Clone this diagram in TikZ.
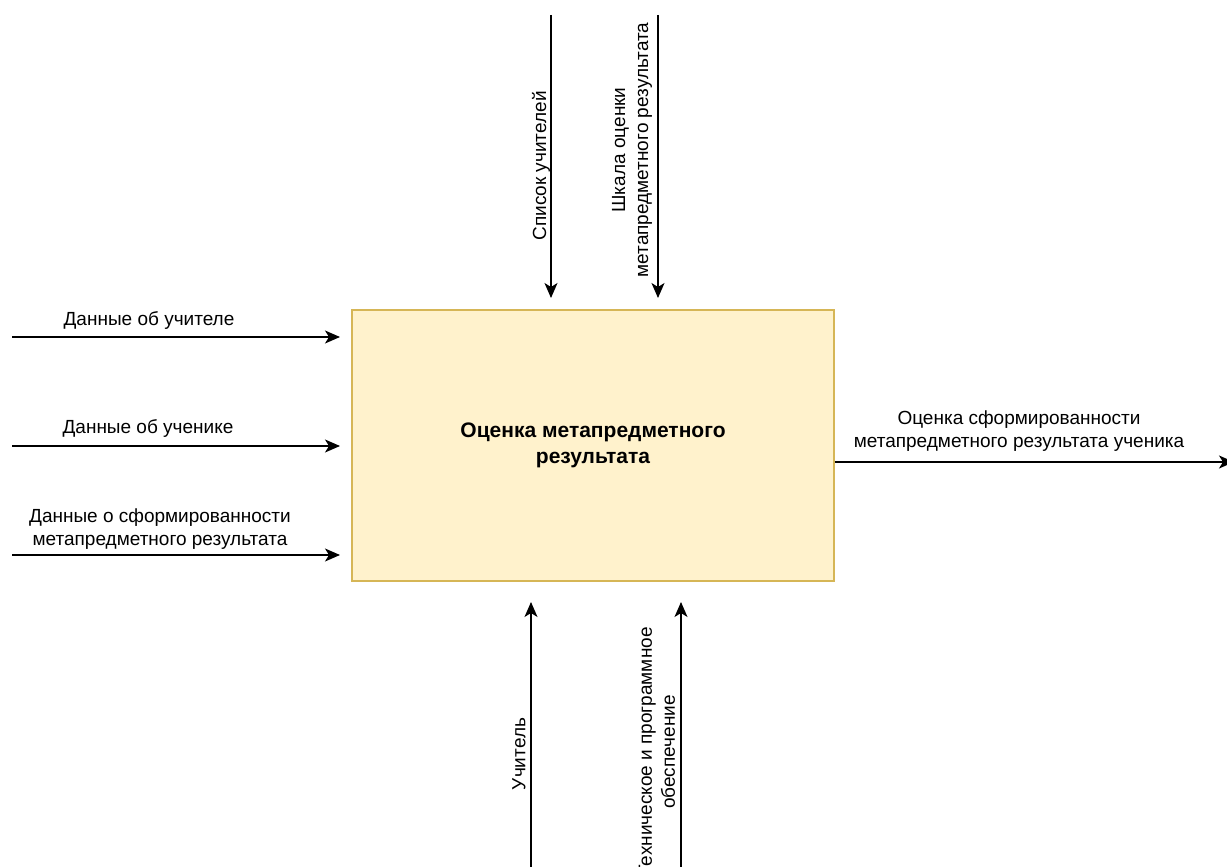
\documentclass[tikz,border=0pt]{standalone}
\usepackage{fontspec}
\setmainfont{Liberation Sans}
\usetikzlibrary{arrows.meta}
\definecolor{boxfill}{HTML}{FFF2CC}
\definecolor{boxline}{HTML}{D6B656}
\tikzset{
  flow/.style={line width=1.3pt, -{Stealth[length=15pt,width=13pt,inset=4pt]}},
  lbl/.style={font=\fontsize{19}{23}\selectfont, align=center, inner sep=0pt},
  vlbl/.style={lbl, rotate=90},
  func/.style={draw=boxline, fill=boxfill, line width=1.3pt, minimum width=482pt,
    minimum height=271pt, font=\fontsize{21}{26}\selectfont\bfseries, align=center, inner sep=0pt}
}
\begin{document}
\begin{tikzpicture}[x=1pt,y=-1pt]
\useasboundingbox (0,0) rectangle (1227,867);
% function block
\node[func] (f) at (593,445.5) {Оценка метапредметного\\результата};
% inputs
\coordinate (i1s) at (12,337);  \coordinate (i1e) at (340,337);
\coordinate (i2s) at (12,446);  \coordinate (i2e) at (340,446);
\coordinate (i3s) at (12,555);  \coordinate (i3e) at (340,555);
\draw[flow] (i1s) -- (i1e);
\draw[flow] (i2s) -- (i2e);
\draw[flow] (i3s) -- (i3e);
\node[lbl] (li1) at (149,321) {Данные об учителе};
\node[lbl] (li2) at (148,429) {Данные об ученике};
\node[lbl] (li3) at (160,529.5) {Данные о сформированности\\метапредметного результата};
% output
\coordinate (o1e) at (1234,462);
\draw[flow] (f.east |- o1e) -- (o1e);
\node[lbl] (lo1) at (1019,431.5) {Оценка сформированности\\метапредметного результата ученика};
% controls
\coordinate (c1s) at (551,15);  \coordinate (c1e) at (551,298);
\coordinate (c2s) at (658,15);  \coordinate (c2e) at (658,298);
\draw[flow] (c1s) -- (c1e);
\draw[flow] (c2s) -- (c2e);
\node[vlbl] (lc1) at (541,166) {Список учителей};
\node[vlbl] (lc2) at (632,150) {Шкала оценки\\метапредметного результата};
% mechanisms
\coordinate (m1s) at (531,870);  \coordinate (m1e) at (531,602);
\coordinate (m2s) at (681,870);  \coordinate (m2e) at (681,602);
\draw[flow] (m1s) -- (m1e);
\draw[flow] (m2s) -- (m2e);
\node[vlbl] (lm1) at (519,754) {Учитель};
\node[vlbl] (lm2) at (657,752) {Техническое и программное\\обеспечение};
\end{tikzpicture}
\end{document}
